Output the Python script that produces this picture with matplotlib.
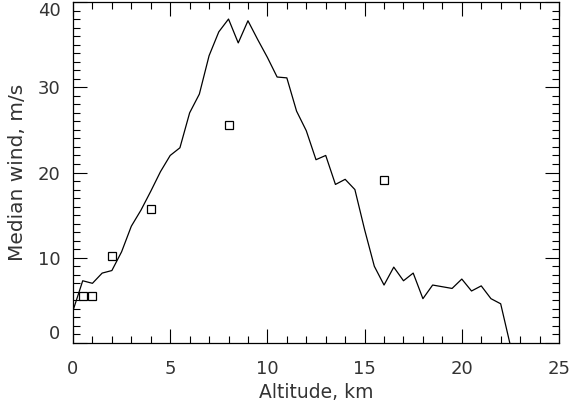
import matplotlib.pyplot as plt
import numpy as np

# median wind profile (line)
altitude = [0.0, 0.5, 1.0, 1.5, 2.0, 2.5, 3.0, 3.5, 4.0, 4.5, 5.0, 5.5, 6.0, 6.5,
            7.0, 7.5, 8.0, 8.5, 9.0, 9.5, 10.0, 10.5, 11.0, 11.5, 12.0, 12.5,
            13.0, 13.5, 14.0, 14.5, 15.0, 15.5, 16.0, 16.5, 17.0, 17.5, 18.0,
            18.5, 19.0, 19.5, 20.0, 20.5, 21.0, 21.5, 22.0, 22.5]
wind = [3.8, 7.3, 7.0, 8.2, 8.5, 10.7, 13.7, 15.6, 17.8, 20.1, 22.0, 22.9, 27.0,
        29.2, 33.7, 36.5, 38.0, 35.2, 37.8, 35.6, 33.5, 31.2, 31.1, 27.2, 24.9,
        21.5, 22.0, 18.6, 19.2, 18.0, 13.3, 9.0, 6.8, 8.9, 7.3, 8.2, 5.2, 6.8,
        6.6, 6.4, 7.5, 6.1, 6.7, 5.2, 4.6, -0.3]

# squares
sq_alt = [0.5, 1.0, 2.0, 4.0, 8.0, 16.0]
sq_wind = [5.5, 5.5, 10.2, 15.7, 25.6, 19.1]

plt.rcParams['font.family'] = 'DejaVu Sans'
fig = plt.figure(figsize=(5.72, 4.04), dpi=100)
ax = fig.add_axes([73 / 572, 1 - 343 / 404, 486 / 572, 341 / 404])

ax.plot(altitude, wind, color='black', lw=0.9)
ax.plot(sq_alt, sq_wind, 's', mfc='none', mec='black', ms=6, mew=0.9)

ax.set_xlim(0, 25)
ax.set_ylim(0, 40)
ax.set_xticks(np.arange(0, 26, 5))
ax.set_xticks(np.arange(0, 26, 1), minor=True)
ax.set_yticks(np.arange(0, 41, 10))
ax.set_yticks(np.arange(0, 41, 1), minor=True)
ax.tick_params(which='both', direction='in', top=True, right=True,
               width=0.8, colors='black', labelsize=13, labelcolor='#333333')
ax.tick_params(which='major', length=10)
ax.tick_params(axis='x', which='major', pad=12)
ax.tick_params(axis='y', which='major', pad=9)
ax.tick_params(which='minor', length=5)
for s in ax.spines.values():
    s.set_linewidth(0.9)

# keep the end labels of the y axis inside the axes height
ylabels = ax.get_yticklabels()
ylabels[0].set_verticalalignment('bottom')
ylabels[-1].set_verticalalignment('top')

ax.set_xlabel("Altitude, km", fontsize=13.5, color='#333333', labelpad=4)
ax.set_ylabel("Median wind, m/s", fontsize=14.5, color='#333333', labelpad=8)

plt.savefig('out.png', dpi=100)
